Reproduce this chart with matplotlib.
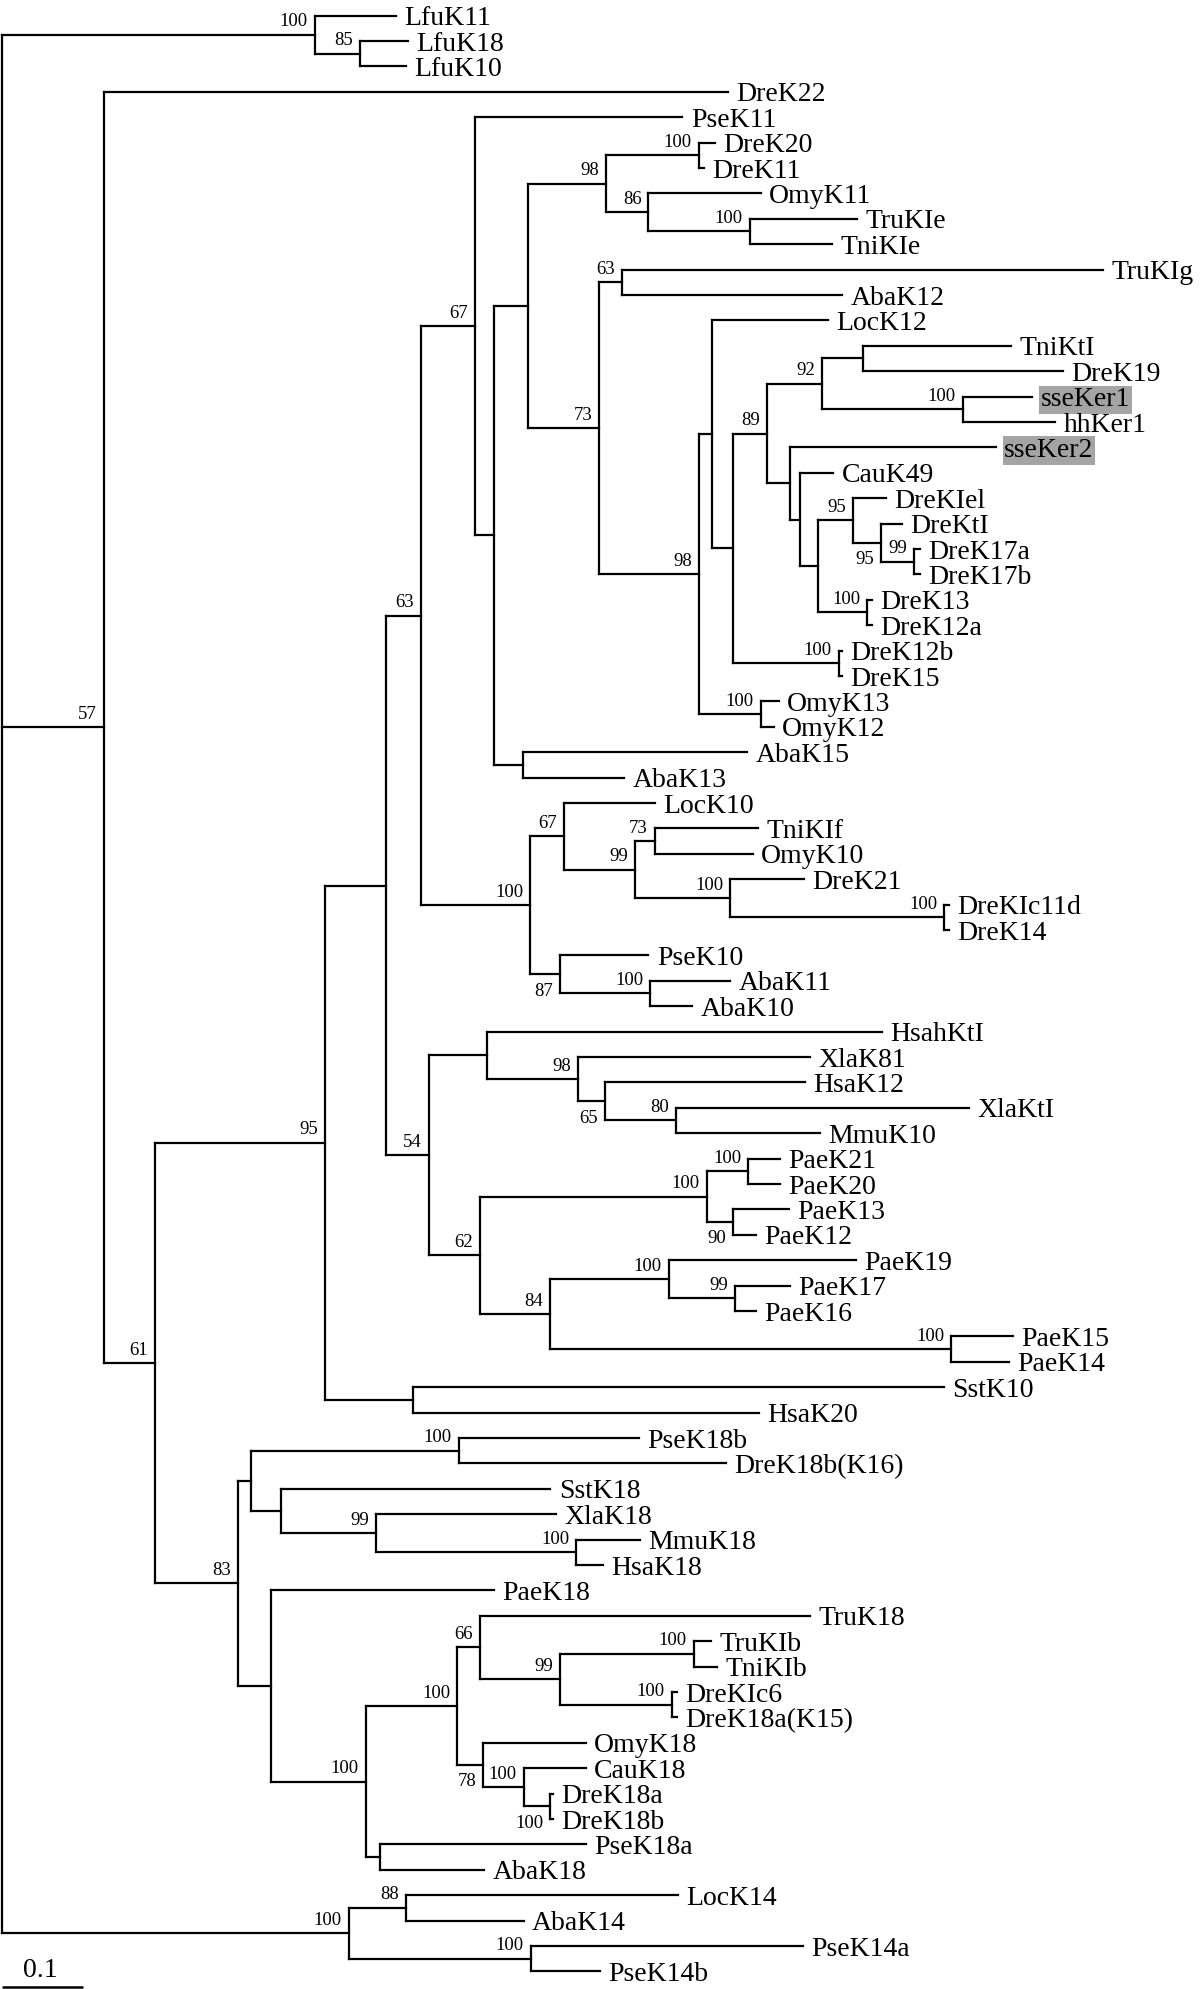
import matplotlib
matplotlib.use("Agg")
import matplotlib.pyplot as plt

# ---------------- data ----------------
leaf_names = [
    "LfuK11", "LfuK18", "LfuK10", "DreK22", "PseK11", "DreK20", "DreK11", "OmyK11",
    "TruKIe", "TniKIe", "TruKIg", "AbaK12", "LocK12", "TniKtI", "DreK19", "sseKer1",
    "hhKer1", "sseKer2", "CauK49", "DreKIel", "DreKtI", "DreK17a", "DreK17b", "DreK13",
    "DreK12a", "DreK12b", "DreK15", "OmyK13", "OmyK12", "AbaK15", "AbaK13", "LocK10",
    "TniKIf", "OmyK10", "DreK21", "DreKIc11d", "DreK14", "PseK10", "AbaK11", "AbaK10",
    "HsahKtI", "XlaK81", "HsaK12", "XlaKtI", "MmuK10", "PaeK21", "PaeK20", "PaeK13",
    "PaeK12", "PaeK19", "PaeK17", "PaeK16", "PaeK15", "PaeK14", "SstK10", "HsaK20",
    "PseK18b", "DreK18b(K16)", "SstK18", "XlaK18", "MmuK18", "HsaK18", "PaeK18", "TruK18",
    "TruKIb", "TniKIb", "DreKIc6", "DreK18a(K15)", "OmyK18", "CauK18", "DreK18a", "DreK18b",
    "PseK18a", "AbaK18", "LocK14", "AbaK14", "PseK14a", "PseK14b",
]
leaf_depth = [
    0.486, 0.501, 0.499, 0.896, 0.840, 0.880, 0.867, 0.937,
    1.056, 1.025, 1.359, 1.037, 1.020, 1.246, 1.310, 1.272,
    1.300, 1.227, 1.026, 1.091, 1.111, 1.133, 1.133, 1.074,
    1.074, 1.037, 1.037, 0.959, 0.953, 0.920, 0.768, 0.806,
    0.933, 0.927, 0.990, 1.169, 1.169, 0.798, 0.899, 0.852,
    1.086, 0.998, 0.991, 1.194, 1.010, 0.960, 0.960, 0.972,
    0.931, 1.054, 0.973, 0.931, 1.248, 1.243, 1.163, 0.935,
    0.786, 0.894, 0.677, 0.684, 0.788, 0.742, 0.607, 0.998,
    0.875, 0.883, 0.833, 0.833, 0.721, 0.721, 0.680, 0.680,
    0.721, 0.595, 0.835, 0.644, 0.989, 0.738,
]

node_names = [
    "root", "nLfu", "nLfu2", "n57", "n61", "n95", "n386", "n63a", "n67a", "nX",
    "n528", "n98a", "nDre2011", "n86", "nTru", "n73a", "n63b", "n98b", "n712", "n733",
    "n89", "n92", "n863", "nsse", "n790", "n800", "n818", "n95b", "n95c", "n99a",
    "n1312", "n12b15", "nOmy", "nY", "n100b", "n67b", "n99b", "n73b", "n100c", "n100d",
    "n87", "n100e", "n54", "n487", "n98c", "n65", "n80", "n62", "n100f", "n100g",
    "n90", "n84", "n100h", "n99c", "n100i", "nSH", "n83", "n251", "n100j", "n281",
    "n99d", "n100k", "n271", "n100l", "n100m", "n66", "n99e", "n100n", "n100o", "n78",
    "n100p", "n100q", "n380", "nK14", "n88", "nPse14",
]
node_children = [
    ["nLfu", "n57", "nK14"], ["LfuK11", "nLfu2"], ["LfuK18", "LfuK10"], ["DreK22", "n61"],
    ["n95", "n83"], ["n386", "nSH"], ["n63a", "n54"], ["n67a", "n100b"], ["PseK11", "nX"],
    ["n528", "nY"], ["n98a", "n73a"], ["nDre2011", "n86"], ["DreK20", "DreK11"],
    ["OmyK11", "nTru"], ["TruKIe", "TniKIe"], ["n63b", "n98b"], ["TruKIg", "AbaK12"],
    ["n712", "nOmy"], ["LocK12", "n733"], ["n89", "n12b15"], ["n92", "n790"],
    ["n863", "nsse"], ["TniKtI", "DreK19"], ["sseKer1", "hhKer1"], ["sseKer2", "n800"],
    ["CauK49", "n818"], ["n95b", "n1312"], ["DreKIel", "n95c"], ["DreKtI", "n99a"],
    ["DreK17a", "DreK17b"], ["DreK13", "DreK12a"], ["DreK12b", "DreK15"],
    ["OmyK13", "OmyK12"], ["AbaK15", "AbaK13"], ["n67b", "n87"], ["LocK10", "n99b"],
    ["n73b", "n100c"], ["TniKIf", "OmyK10"], ["DreK21", "n100d"], ["DreKIc11d", "DreK14"],
    ["PseK10", "n100e"], ["AbaK11", "AbaK10"], ["n487", "n62"], ["HsahKtI", "n98c"],
    ["XlaK81", "n65"], ["HsaK12", "n80"], ["XlaKtI", "MmuK10"], ["n100f", "n84"],
    ["n100g", "n90"], ["PaeK21", "PaeK20"], ["PaeK13", "PaeK12"], ["n100h", "n100i"],
    ["PaeK19", "n99c"], ["PaeK17", "PaeK16"], ["PaeK15", "PaeK14"], ["SstK10", "HsaK20"],
    ["n251", "n271"], ["n100j", "n281"], ["PseK18b", "DreK18b(K16)"], ["SstK18", "n99d"],
    ["XlaK18", "n100k"], ["MmuK18", "HsaK18"], ["PaeK18", "n100l"], ["n100m", "n380"],
    ["n66", "n78"], ["TruK18", "n99e"], ["n100n", "n100o"], ["TruKIb", "TniKIb"],
    ["DreKIc6", "DreK18a(K15)"], ["OmyK18", "n100p"], ["CauK18", "n100q"],
    ["DreK18a", "DreK18b"], ["PseK18a", "AbaK18"], ["n88", "nPse14"],
    ["LocK14", "AbaK14"], ["PseK14a", "PseK14b"],
]
node_depth = [
    0.000, 0.386, 0.442, 0.126, 0.189, 0.399, 0.474, 0.517, 0.584, 0.607,
    0.649, 0.746, 0.860, 0.798, 0.923, 0.737, 0.765, 0.860, 0.877, 0.902,
    0.944, 1.012, 1.063, 1.186, 0.973, 0.985, 1.007, 1.051, 1.085, 1.126,
    1.068, 1.033, 0.937, 0.643, 0.652, 0.694, 0.781, 0.806, 0.899, 1.163,
    0.689, 0.800, 0.527, 0.599, 0.711, 0.744, 0.832, 0.590, 0.870, 0.921,
    0.902, 0.677, 0.823, 0.905, 1.172, 0.507, 0.291, 0.307, 0.564, 0.344,
    0.462, 0.709, 0.332, 0.449, 0.562, 0.590, 0.689, 0.854, 0.827, 0.594,
    0.644, 0.677, 0.467, 0.428, 0.499, 0.653,
]
node_support = [
    None, 100, 85, 57, 61, 95, None, 63, 67, None,
    None, 98, 100, 86, 100, 73, 63, 98, None, None,
    89, 92, None, 100, None, None, None, 95, 95, 99,
    100, 100, 100, None, 100, 67, 99, 73, 100, 100,
    87, 100, 54, None, 98, 65, 80, 62, 100, 100,
    90, 84, 100, 99, 100, None, 83, None, 100, None,
    99, 100, None, 100, 100, 66, 99, 100, 100, 78,
    100, 100, None, 100, 88, 100,
]
support_below = {"n95c", "n87", "n65", "n90", "n78", "n100q"}
highlighted = ["sseKer1", "sseKer2"]
scale_bar_length = 0.1

# ---------------- layout ----------------
depth = dict(zip(leaf_names, leaf_depth))
depth.update(zip(node_names, node_depth))
children = dict(zip(node_names, node_children))
support = dict(zip(node_names, node_support))
ypos = {n: i for i, n in enumerate(leaf_names)}


def place(n):
    if n in ypos:
        return ypos[n]
    ys = [place(c) for c in children[n]]
    ypos[n] = (ys[0] + ys[-1]) / 2.0
    return ypos[n]


place("root")

W, H = 1200, 1989
fig = plt.figure(figsize=(W / 100, H / 100), dpi=100)
ax = fig.add_axes([0, 0, 1, 1])
ax.set_axis_off()
px_per_unit = 810.0
x0_px = 2.0
ax.set_xlim(-x0_px / px_per_unit, (W - x0_px) / px_per_unit)
row_px, y0_px = 25.4, 15.5
ax.set_ylim((H - y0_px) / row_px, -y0_px / row_px)

SERIF = ["Liberation Serif", "DejaVu Serif"]
lw = 1.6
line_kw = dict(color="black", lw=lw, solid_capstyle="projecting")

for n in node_names:
    xs = depth[n]
    ch = children[n]
    ax.plot([xs, xs], [ypos[ch[0]], ypos[ch[-1]]], **line_kw)
    for c in ch:
        ax.plot([xs, depth[c]], [ypos[c], ypos[c]], **line_kw)
    s = support[n]
    if s is not None:
        if n in support_below:
            ax.annotate(str(s), (xs, ypos[n]), xytext=(-5, -6), textcoords="offset points",
                        ha="right", va="top", fontsize=13.5, family=SERIF)
        else:
            ax.annotate(str(s), (xs, ypos[n]), xytext=(-5, 6), textcoords="offset points",
                        ha="right", va="baseline", fontsize=13.5, family=SERIF)

for n in leaf_names:
    kw = {}
    if n in highlighted:
        kw["bbox"] = dict(boxstyle="square,pad=0.06", fc="#a4a4a4", ec="none")
    ax.annotate(n, (depth[n], ypos[n]), xytext=(6, -7), textcoords="offset points",
                ha="left", va="baseline", fontsize=20, family=SERIF, **kw)

# scale bar
bar_y = (1987 - y0_px) / row_px
ax.plot([0, scale_bar_length], [bar_y, bar_y], color="black", lw=1.8, clip_on=False,
        solid_capstyle="butt")
ax.text(scale_bar_length / 2 - 0.003, (1977 - y0_px) / row_px, "0.1", ha="center",
        va="baseline", fontsize=20, family=SERIF)

fig.savefig("out.png", dpi=100, facecolor="white")
